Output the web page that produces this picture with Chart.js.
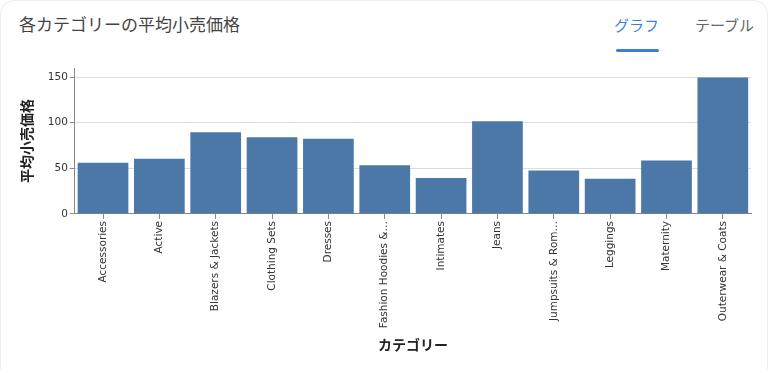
<!DOCTYPE html>
<html lang="ja">
<head>
<meta charset="utf-8">
<script src="https://cdn.jsdelivr.net/npm/chart.js@4"></script>
<style>
    html, body { margin: 0; padding: 0; background: #fff; }
    .card {
        position: absolute; left: 0; top: 0; width: 766px; height: 380px;
        border: 1px solid #eee; border-radius: 14px; background: #fff;
        overflow: hidden;
    }
    .title {
        position: absolute; left: 18px; top: 10px;
        font-family: "Noto Sans CJK JP", sans-serif; font-size: 17px; color: #444;
    }
    .tab {
        position: absolute; top: 13px;
        font-family: "Noto Sans CJK JP", sans-serif; font-size: 15px;
    }
    .tab.on { left: 613px; color: #3d7fd6; }
    .tab.off { left: 694px; color: #666; }
    .bar { position: absolute; left: 615px; top: 48px; width: 43px; height: 3px; border-radius: 2px; background: #3d7fd6; }
    .wrap { position: absolute; left: 0; top: 57px; width: 768px; height: 299px; }
</style>
</head>
<body>
<div class="card">
    <div class="title">各カテゴリーの平均小売価格</div>
    <div class="tab on">グラフ</div>
    <div class="tab off">テーブル</div>
    <div class="bar"></div>
    <div class="wrap"><canvas id="myChart"></canvas></div>
</div>
<script>
const categories = ['Accessories', 'Active', 'Blazers & Jackets', 'Clothing Sets', 'Dresses',
    'Fashion Hoodies &…', 'Intimates', 'Jeans', 'Jumpsuits & Rom…', 'Leggings', 'Maternity', 'Outerwear & Coats'];
const avgPrice = [56, 60.5, 89.5, 84, 82.5, 53.5, 39.5, 101.5, 47.5, 38.5, 58.5, 149.5];
const yTicks = [0, 50, 100, 150];

const tickFont = { family: 'DejaVu Sans', size: 10.5 };
const titleFont = { family: 'Noto Sans CJK JP', size: 14, weight: 'bold' };

const ctx = document.getElementById('myChart').getContext('2d');
const myChart = new Chart(ctx, {
    type: 'bar',
    data: {
        labels: categories,
        datasets: [{
            label: '平均小売価格',
            data: avgPrice,
            backgroundColor: '#4c78a8',
            barPercentage: 0.9,
            categoryPercentage: 1.0
        }]
    },
    options: {
        responsive: true,
        maintainAspectRatio: false,
        animation: false,
        layout: { padding: { left: 17, right: 18, top: 10, bottom: 4 } },
        plugins: {
            legend: { display: false },
            tooltip: { enabled: false }
        },
        scales: {
            x: {
                grid: { offset: false, drawOnChartArea: false, tickLength: 5, tickColor: '#888' },
                border: { color: '#888' },
                ticks: { font: tickFont, color: '#333', minRotation: 90, maxRotation: 90, autoSkip: false, padding: 2 },
                title: { display: true, text: 'カテゴリー', font: titleFont, color: '#222', padding: { top: 6, bottom: 0 } }
            },
            y: {
                min: 0,
                max: 160,
                afterBuildTicks: (axis) => {
                    axis.ticks = yTicks.map(v => ({ value: v }));
                },
                grid: { color: '#ddd', tickLength: 5, tickColor: '#888' },
                border: { color: '#888' },
                ticks: { font: tickFont, color: '#333', padding: 2 },
                title: { display: true, text: '平均小売価格', font: titleFont, color: '#222', padding: { top: 0, bottom: 11 } }
            }
        }
    }
});
</script>
</body>
</html>
